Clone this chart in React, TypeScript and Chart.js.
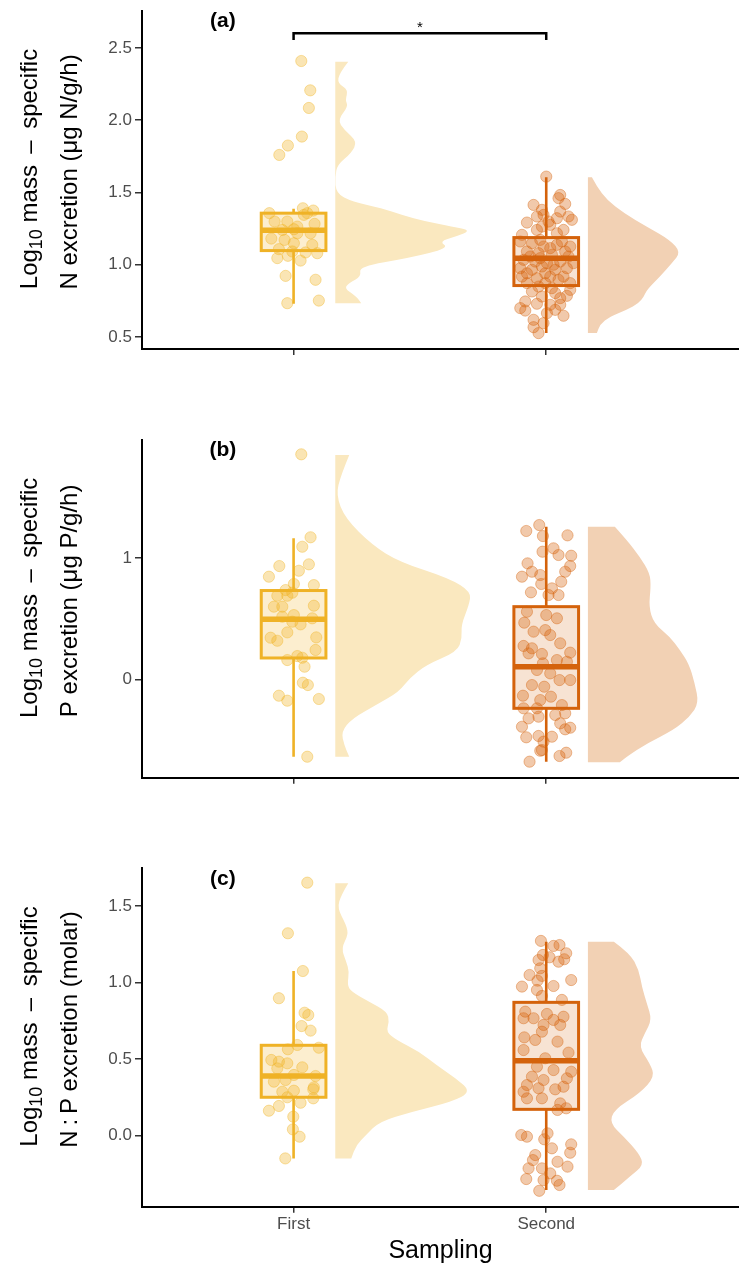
import React, { useEffect, useRef } from "react";
import { Chart, registerables } from "chart.js";
Chart.register(...registerables);

// ---------------- data ----------------
const CATEGORIES = ["First", "Second"];

// box stats: [lower whisker, q1, median, q3, upper whisker]
const A_BOX_FIRST = [0.73, 1.098, 1.239, 1.357, 1.387];
const A_BOX_SECOND = [0.527, 0.856, 1.045, 1.188, 1.606];
const B_BOX_FIRST = [-0.638, 0.176, 0.496, 0.732, 1.163];
const B_BOX_SECOND = [-0.68, -0.239, 0.104, 0.599, 1.258];
const C_BOX_FIRST = [-0.151, 0.249, 0.388, 0.589, 1.075];
const C_BOX_SECOND = [-0.358, 0.17, 0.488, 0.87, 1.267];

// half-violin density profiles (levels + relative density)
const A_VIOLIN_FIRST_Y = [2.405, 2.325, 2.256, 2.21, 2.14, 2.094, 2.002, 1.933, 1.852, 1.772, 1.691, 1.61, 1.495, 1.437, 1.391, 1.345, 1.299, 1.264, 1.237, 1.195, 1.161, 1.115, 1.046, 0.988, 0.918, 0.873, 0.838, 0.78, 0.734];
const A_VIOLIN_FIRST_D = [13, 4, 2.3, 13, 10, 13, 2.3, 9, 22, 16, 2, 0, 0.7, 17, 47, 66, 91, 117, 136, 121, 104, 114, 74, 24, 26, 14, 9, 21, 26];
const A_VIOLIN_SECOND_Y = [1.606, 1.541, 1.449, 1.357, 1.264, 1.172, 1.087, 1.011, 0.918, 0.826, 0.78, 0.734, 0.688, 0.642, 0.585, 0.527];
const A_VIOLIN_SECOND_D = [4, 9, 19, 36, 59, 82, 93, 84, 72, 59, 56, 51, 39, 22, 12, 9];
const B_VIOLIN_FIRST_Y = [1.849, 1.684, 1.519, 1.327, 1.107, 0.969, 0.833, 0.722, 0.613, 0.448, 0.338, 0.228, 0.118, 0.008, -0.102, -0.212, -0.322, -0.432, -0.542, -0.638];
const B_VIOLIN_FIRST_D = [14, 5.7, 0.7, 10, 37, 64, 114, 136, 134, 126, 127, 122, 91, 74, 64, 41, 17, 6, 9, 14];
const B_VIOLIN_SECOND_Y = [1.258, 1.148, 1.011, 0.874, 0.764, 0.599, 0.462, 0.351, 0.242, 0.132, -0.033, -0.198, -0.308, -0.418, -0.528, -0.638, -0.684];
const B_VIOLIN_SECOND_D = [27, 39, 52, 62, 63, 61, 66, 82, 92, 101, 107, 111, 102, 86, 59, 39, 32];
const C_VIOLIN_FIRST_Y = [1.649, 1.573, 1.486, 1.376, 1.311, 1.224, 1.136, 1.071, 0.984, 0.94, 0.874, 0.809, 0.743, 0.678, 0.624, 0.547, 0.46, 0.373, 0.285, 0.22, 0.154, 0.089, 0.002, -0.063, -0.151];
const C_VIOLIN_FIRST_D = [13, 6, 2, 11, 13, 6, 11, 14, 12, 16, 34, 52, 54, 51, 61, 84, 101, 121, 136, 117, 77, 44, 31, 21, 16];
const C_VIOLIN_SECOND_Y = [1.267, 1.191, 1.082, 0.973, 0.864, 0.755, 0.668, 0.58, 0.471, 0.384, 0.275, 0.166, 0.079, -0.009, -0.118, -0.194, -0.271, -0.358];
const C_VIOLIN_SECOND_D = [26, 42, 51, 54, 59, 64, 57, 51, 62, 67, 52, 26, 22, 36, 51, 56, 42, 26];

// jittered observations: [jitter, value]
const A_FIRST_POINTS = [[7.7, 2.41], [16.7, 2.207], [15.3, 2.085], [8.3, 1.887], [-5.7, 1.825], [-14.3, 1.76], [9.3, 1.391], [19.7, 1.375], [-24.3, 1.357], [13.7, 1.357], [-19, 1.299], [-6.3, 1.299], [21, 1.283], [-11.3, 1.241], [0.3, 1.246], [3.7, 1.218], [-22.3, 1.181], [-9, 1.172], [17, 1.218], [0.3, 1.149], [18.7, 1.138], [-14.7, 1.108], [-1.3, 1.092], [12, 1.085], [23.7, 1.08], [-16.3, 1.046], [-5.7, 1.062], [7, 1.029], [-8, 0.923], [22, 0.896], [-6.3, 0.734], [25.3, 0.752], [3.7, 1.264], [10.3, 1.345]];
const A_SECOND_POINTS = [[0, 1.61], [14, 1.483], [12.3, 1.461], [-12.7, 1.414], [19, 1.421], [-4.3, 1.38], [14, 1.368], [-2.7, 1.345], [22.3, 1.334], [25.7, 1.311], [-19.3, 1.292], [2.3, 1.299], [-4.3, 1.264], [17.3, 1.241], [-9.3, 1.241], [-24.3, 1.207], [10.7, 1.218], [-26, 1.161], [-14.3, 1.149], [-2.7, 1.126], [10.7, 1.138], [24, 1.126], [-19.3, 1.092], [-7.7, 1.08], [5.7, 1.069], [19, 1.092], [-22.7, 1.034], [-11, 1.022], [0.7, 1.011], [14, 1.022], [27.3, 1.011], [-26, 0.976], [-14.3, 0.965], [-4.3, 0.988], [9, 0.965], [20.7, 0.976], [-24.3, 0.918], [-9.3, 0.907], [4, 0.918], [17.3, 0.918], [-19.3, 0.873], [-1, 0.873], [24, 0.873], [-14.3, 0.815], [9, 0.804], [20.7, 0.785], [-21, 0.746], [-9.3, 0.73], [4, 0.723], [14, 0.723], [-21, 0.683], [9, 0.688], [17.3, 0.647], [-2.7, 0.596], [-12.7, 0.568], [-7.7, 0.527], [-6, 1.172], [15.7, 1.161], [4, 1.115], [-16, 1.057], [22.3, 1.057], [-6, 1.046], [7.3, 1.0], [-19.3, 0.941], [-1, 0.941], [12.3, 0.896], [-7.7, 0.849], [5.7, 0.838], [24, 0.826], [-4.3, 0.78], [14, 0.769], [-26, 0.7], [0.7, 0.665], [-12.7, 0.619], [4, 1.276], [10.7, 1.322], [-9.3, 1.334]];
const B_FIRST_POINTS = [[7.7, 1.855], [17, 1.171], [8.7, 1.093], [15.3, 0.948], [-14.3, 0.934], [5.3, 0.895], [-24.7, 0.846], [0.3, 0.786], [20.3, 0.777], [-8, 0.736], [-1.3, 0.714], [-16.3, 0.689], [-6.3, 0.689], [-19.7, 0.599], [-11.3, 0.599], [20.3, 0.607], [0.3, 0.53], [-11.3, 0.516], [18.7, 0.503], [-1.3, 0.475], [7, 0.453], [-6.3, 0.387], [-23, 0.343], [-16.3, 0.318], [22.7, 0.346], [22, 0.242], [3.7, 0.192], [8.7, 0.178], [-6.3, 0.159], [11, 0.104], [9.3, -0.028], [14.3, -0.047], [-14.7, -0.135], [-6.3, -0.176], [25.3, -0.162], [13.7, -0.638]];
const B_SECOND_POINTS = [[-7, 1.272], [-20, 1.223], [-3.3, 1.181], [21.3, 1.187], [-3.7, 1.052], [7.3, 1.08], [12.3, 1.025], [25, 1.019], [-18.7, 0.956], [24, 0.934], [-14.3, 0.887], [-6, 0.86], [-24.3, 0.846], [19, 0.887], [-5, 0.786], [15, 0.805], [-15.3, 0.717], [5.7, 0.75], [2.3, 0.695], [12.3, 0.695], [-19.3, 0.557], [0, 0.53], [10.7, 0.503], [-22, 0.467], [-12.7, 0.393], [-1, 0.406], [4, 0.365], [14, 0.297], [-22.7, 0.275], [-14.3, 0.256], [-4.3, 0.209], [24, 0.22], [-17.7, 0.214], [-3.3, 0.132], [10.7, 0.159], [20.7, 0.145], [-9.3, 0.077], [4, 0.049], [13.3, -0.006], [24, -0.006], [-14.3, -0.047], [-2, -0.061], [-23.3, -0.135], [-6, -0.171], [4.7, -0.143], [15.7, -0.212], [-22.7, -0.239], [-9.3, -0.239], [-7.7, -0.308], [9, -0.294], [19, -0.28], [-17.7, -0.322], [14, -0.363], [24, -0.399], [-24.3, -0.391], [19, -0.412], [-7.7, -0.467], [-20, -0.478], [5.7, -0.473], [-2.7, -0.514], [-6, -0.589], [20, -0.605], [13.3, -0.632], [-16.7, -0.679], [-4.3, -0.583]];
const C_FIRST_POINTS = [[13.7, 1.653], [-5.7, 1.322], [9.3, 1.075], [-14.7, 0.897], [11, 0.802], [14.7, 0.787], [8, 0.715], [17, 0.685], [3.7, 0.591], [-5.7, 0.563], [25.3, 0.573], [-22.3, 0.493], [-14.7, 0.482], [-6.3, 0.471], [-16.3, 0.438], [8.7, 0.445], [0.3, 0.395], [22, 0.388], [-19.7, 0.351], [-8, 0.362], [20.3, 0.314], [-11.3, 0.285], [0.3, 0.292], [19.7, 0.301], [-6.3, 0.249], [19.7, 0.242], [7, 0.213], [-14.7, 0.192], [-24.7, 0.161], [-0.3, 0.122], [-0.7, 0.039], [6, -0.009], [-8.3, -0.151]];
const C_SECOND_POINTS = [[-5.3, 1.272], [7.3, 1.239], [13.3, 1.245], [20, 1.191], [18, 1.152], [-3.3, 1.18], [3.3, 1.165], [-7.7, 1.147], [12.3, 1.136], [-6, 1.093], [-16.7, 1.049], [-4.3, 1.043], [-8.7, 1.012], [25, 1.016], [-24.3, 0.973], [7.3, 0.977], [-9.3, 0.951], [-4.3, 0.912], [15.7, 0.886], [-21, 0.809], [0.7, 0.794], [17.3, 0.776], [-22.7, 0.766], [-12.7, 0.766], [7.3, 0.755], [-2.7, 0.722], [14, 0.722], [-4.3, 0.678], [-22, 0.641], [-11, 0.624], [11.3, 0.613], [-22.7, 0.558], [22.3, 0.541], [-1, 0.504], [-9.3, 0.449], [7.3, 0.427], [25, 0.416], [-14.3, 0.384], [-2.7, 0.362], [20.7, 0.373], [-19.3, 0.329], [-7.7, 0.308], [9, 0.301], [-22.7, 0.285], [17.3, 0.318], [-4.3, 0.242], [-19.3, 0.242], [14, 0.209], [20, 0.177], [11.3, 0.166], [-25, 0.002], [-19.3, -0.009], [1.3, 0.013], [-2, -0.026], [25, -0.059], [5.7, -0.085], [24, -0.114], [-11, -0.129], [-13.3, -0.162], [11.3, -0.173], [-17.7, -0.216], [-4.3, -0.216], [21.3, -0.205], [4, -0.249], [-20, -0.286], [-2.7, -0.293], [10.7, -0.297], [13.3, -0.325], [-7, -0.363]];

const A_Y_TICKS = [0.5, 1.0, 1.5, 2.0, 2.5];
const B_Y_TICKS = [0, 1];
const C_Y_TICKS = [0.0, 0.5, 1.0, 1.5];

const SIG_BRACKET = { from: 1, to: 2, y: 2.602, tickEnd: 2.555, label: "*" };

// ---------------- styling ----------------
const FONT = '"Liberation Sans", Arial, Helvetica, sans-serif';
const X_MIN = 0.4;
const X_MAX = 2.763;
const BOX_HALF = 0.128;
const VIOLIN_OFFSET = 0.165;
const UNIT = 1 / 253; // reference-pixel to x-unit scale for density and jitter
const LINE_COLORS = ["#EFB226", "#D4620B"];
const POINT_FILL = ["rgba(240,179,35,0.34)", "rgba(213,98,10,0.34)"];
const POINT_EDGE = ["rgba(240,179,35,0.4)", "rgba(213,98,10,0.4)"];
const BOX_FILL = ["rgba(240,179,35,0.22)", "rgba(213,98,10,0.18)"];
const VIOLIN_FILL = ["#FAE8BF", "#F2D1B4"];
const TITLE_SIZE = 24;
const TICK_SIZE = 17;

type PanelCfg = {
  label: string;
  top: number;
  height: number;
  padTop: number;
  xHeight: number;
  yMin: number;
  yMax: number;
  yTicks: number[];
  decimals: number;
  line2: string;
  showX: boolean;
  points: number[][][];
  boxes: number[][];
  vy: number[][];
  vd: number[][];
  bracket: boolean;
};

const PANELS: PanelCfg[] = [
  {
    label: "(a)", top: 0, height: 430, padTop: 11, xHeight: 81, yMin: 0.417, yMax: 2.756,
    yTicks: A_Y_TICKS, decimals: 1, line2: "N excretion (\u03bcg N/g/h)", showX: false,
    points: [A_FIRST_POINTS, A_SECOND_POINTS], boxes: [A_BOX_FIRST, A_BOX_SECOND],
    vy: [A_VIOLIN_FIRST_Y, A_VIOLIN_SECOND_Y], vd: [A_VIOLIN_FIRST_D, A_VIOLIN_SECOND_D], bracket: true,
  },
  {
    label: "(b)", top: 430, height: 430, padTop: 10, xHeight: 82.3, yMin: -0.811, yMax: 1.973,
    yTicks: B_Y_TICKS, decimals: 0, line2: "P excretion (\u03bcg P/g/h)", showX: false,
    points: [B_FIRST_POINTS, B_SECOND_POINTS], boxes: [B_BOX_FIRST, B_BOX_SECOND],
    vy: [B_VIOLIN_FIRST_Y, B_VIOLIN_SECOND_Y], vd: [B_VIOLIN_FIRST_D, B_VIOLIN_SECOND_D], bracket: false,
  },
  {
    label: "(c)", top: 860, height: 412, padTop: 8.3, xHeight: 65.3, yMin: -0.467, yMax: 1.747,
    yTicks: C_Y_TICKS, decimals: 1, line2: "N\u2009:\u2009P excretion (molar)", showX: true,
    points: [C_FIRST_POINTS, C_SECOND_POINTS], boxes: [C_BOX_FIRST, C_BOX_SECOND],
    vy: [C_VIOLIN_FIRST_Y, C_VIOLIN_SECOND_Y], vd: [C_VIOLIN_FIRST_D, C_VIOLIN_SECOND_D], bracket: false,
  },
];

function makePlugin(cfg: PanelCfg) {
  return {
    id: "raincloud",
    beforeDatasetsDraw(chart: any) {
      const { ctx, scales } = chart;
      const x = scales.x, y = scales.y;
      cfg.vy.forEach((levels, g) => {
        const dens = cfg.vd[g];
        const base = g + 1 + VIOLIN_OFFSET;
        const xb = x.getPixelForValue(base);
        const pts = levels.map((v, k) => [x.getPixelForValue(base + dens[k] * UNIT), y.getPixelForValue(v)]);
        ctx.save();
        ctx.fillStyle = VIOLIN_FILL[g];
        ctx.beginPath();
        ctx.moveTo(xb, pts[0][1]);
        ctx.lineTo(pts[0][0], pts[0][1]);
        for (let k = 1; k < pts.length - 1; k++) {
          const mx = (pts[k][0] + pts[k + 1][0]) / 2;
          const my = (pts[k][1] + pts[k + 1][1]) / 2;
          ctx.quadraticCurveTo(pts[k][0], pts[k][1], mx, my);
        }
        const last = pts[pts.length - 1];
        ctx.lineTo(last[0], last[1]);
        ctx.lineTo(xb, last[1]);
        ctx.closePath();
        ctx.fill();
        ctx.restore();
      });
    },
    afterDatasetsDraw(chart: any) {
      const { ctx, scales } = chart;
      const x = scales.x, y = scales.y;
      cfg.boxes.forEach((b, g) => {
        const c = g + 1;
        const xl = x.getPixelForValue(c - BOX_HALF);
        const xr = x.getPixelForValue(c + BOX_HALF);
        const xc = x.getPixelForValue(c);
        const [lo, q1, med, q3, hi] = b.map((v) => y.getPixelForValue(v));
        ctx.save();
        ctx.strokeStyle = LINE_COLORS[g];
        ctx.lineWidth = 2.6;
        ctx.beginPath();
        ctx.moveTo(xc, q3); ctx.lineTo(xc, hi);
        ctx.moveTo(xc, q1); ctx.lineTo(xc, lo);
        ctx.stroke();
        ctx.fillStyle = BOX_FILL[g];
        ctx.fillRect(xl, q3, xr - xl, q1 - q3);
        ctx.lineWidth = 3;
        ctx.strokeRect(xl, q3, xr - xl, q1 - q3);
        ctx.lineWidth = 5.5;
        ctx.beginPath();
        ctx.moveTo(xl, med); ctx.lineTo(xr, med);
        ctx.stroke();
        ctx.restore();
      });
    },
    afterDraw(chart: any) {
      const { ctx, scales, chartArea } = chart;
      const x = scales.x, y = scales.y;
      ctx.save();
      // panel tag
      ctx.fillStyle = "#000";
      ctx.font = `bold 21px ${FONT}`;
      ctx.textAlign = "center";
      ctx.textBaseline = "middle";
      ctx.fillText(cfg.label, x.getPixelForValue(0.72), chartArea.top + 10.5);
      // significance bracket
      if (cfg.bracket) {
        const x1 = x.getPixelForValue(SIG_BRACKET.from);
        const x2 = x.getPixelForValue(SIG_BRACKET.to);
        const yb = y.getPixelForValue(SIG_BRACKET.y);
        const yt = y.getPixelForValue(SIG_BRACKET.tickEnd);
        ctx.strokeStyle = "#000";
        ctx.lineWidth = 2.5;
        ctx.lineCap = "butt";
        ctx.beginPath();
        ctx.moveTo(x1, yt); ctx.lineTo(x1, yb); ctx.lineTo(x2, yb); ctx.lineTo(x2, yt);
        ctx.stroke();
        ctx.font = `15px ${FONT}`;
        ctx.textBaseline = "alphabetic";
        ctx.fillText(SIG_BRACKET.label, (x1 + x2) / 2, yb - 1);
      }
      // y title (two lines, rotated)
      const cy = (chartArea.top + chartArea.bottom) / 2;
      const big = `${TITLE_SIZE}px ${FONT}`;
      const small = `${Math.round(TITLE_SIZE * 0.75)}px ${FONT}`;
      const tail = " mass \u2009\u2013\u2009 specific";
      ctx.textBaseline = "alphabetic";
      ctx.textAlign = "left";
      ctx.save();
      ctx.translate(37, cy - 11);
      ctx.rotate(-Math.PI / 2);
      ctx.font = big;
      const w1 = ctx.measureText("Log").width;
      const w3 = ctx.measureText(tail).width;
      ctx.font = small;
      const w2 = ctx.measureText("10").width;
      const x0 = -(w1 + w2 + w3) / 2;
      ctx.font = big;
      ctx.fillText("Log", x0, 0);
      ctx.font = small;
      ctx.fillText("10", x0 + w1, 5);
      ctx.font = big;
      ctx.fillText(tail, x0 + w1 + w2, 0);
      ctx.restore();
      ctx.save();
      ctx.translate(77, cy - 8);
      ctx.rotate(-Math.PI / 2);
      ctx.font = big;
      ctx.textAlign = "center";
      ctx.fillText(cfg.line2, 0, 0);
      ctx.restore();
      ctx.restore();
    },
  };
}

function Panel({ cfg }: { cfg: PanelCfg }) {
  const ref = useRef<HTMLCanvasElement>(null);
  useEffect(() => {
    const datasets = cfg.points.map((pts, g) => ({
      label: CATEGORIES[g],
      data: pts.map(([j, v]) => ({ x: g + 1 + j * UNIT, y: v })),
      backgroundColor: POINT_FILL[g],
      borderColor: POINT_EDGE[g],
      borderWidth: 1,
      pointRadius: 5.6,
      pointHoverRadius: 5.6,
    }));
    const chart = new Chart(ref.current as HTMLCanvasElement, {
      type: "scatter",
      data: { datasets },
      plugins: [makePlugin(cfg)],
      options: {
        animation: false,
        responsive: false,
        devicePixelRatio: 1,
        layout: { autoPadding: false, padding: { top: cfg.padTop, left: 0, right: 0, bottom: 0 } },
        plugins: { legend: { display: false }, tooltip: { enabled: false } },
        scales: {
          x: {
            type: "linear",
            min: X_MIN,
            max: X_MAX,
            afterBuildTicks: (s: any) => { s.ticks = [1, 2].map((v) => ({ value: v })); },
            afterFit: (s: any) => { s.height = cfg.xHeight; s.paddingLeft = 0; s.paddingRight = 0; },
            ticks: {
              autoSkip: false,
              maxRotation: 0,
              padding: 1,
              color: "#4D4D4D",
              font: { family: FONT, size: TICK_SIZE },
              callback: (v: any) => (cfg.showX ? CATEGORIES[Math.round(Number(v)) - 1] : ""),
            },
            grid: { drawOnChartArea: false, drawTicks: true, tickLength: 6, color: "#333", lineWidth: 1.5 },
            border: { display: true, color: "#000", width: 2 },
            title: cfg.showX
              ? { display: true, text: "Sampling", color: "#000", font: { family: FONT, size: 25 }, padding: { top: 0, bottom: 6 } }
              : { display: false },
          },
          y: {
            type: "linear",
            min: cfg.yMin,
            max: cfg.yMax,
            afterBuildTicks: (s: any) => { s.ticks = cfg.yTicks.map((v) => ({ value: v })); },
            afterFit: (s: any) => { s.width = 142; s.paddingTop = 0; s.paddingBottom = 0; },
            ticks: {
              padding: 3,
              color: "#4D4D4D",
              font: { family: FONT, size: TICK_SIZE },
              callback: (v: any) => Number(v).toFixed(cfg.decimals),
            },
            grid: { drawOnChartArea: false, drawTicks: true, tickLength: 7, color: "#333", lineWidth: 1.5 },
            border: { display: true, color: "#000", width: 2 },
          },
        },
      } as any,
    });
    return () => chart.destroy();
  }, []);
  return (
    <div style={{ position: "absolute", left: 0, top: cfg.top, width: 739, height: cfg.height }}>
      <canvas ref={ref} width={739} height={cfg.height} style={{ display: "block" }} />
    </div>
  );
}

export default function App() {
  return (
    <div style={{ position: "absolute", left: 0, top: 0, width: 739, height: 1272, background: "#fff" }}>
      {PANELS.map((p) => (
        <Panel key={p.label} cfg={p} />
      ))}
    </div>
  );
}
